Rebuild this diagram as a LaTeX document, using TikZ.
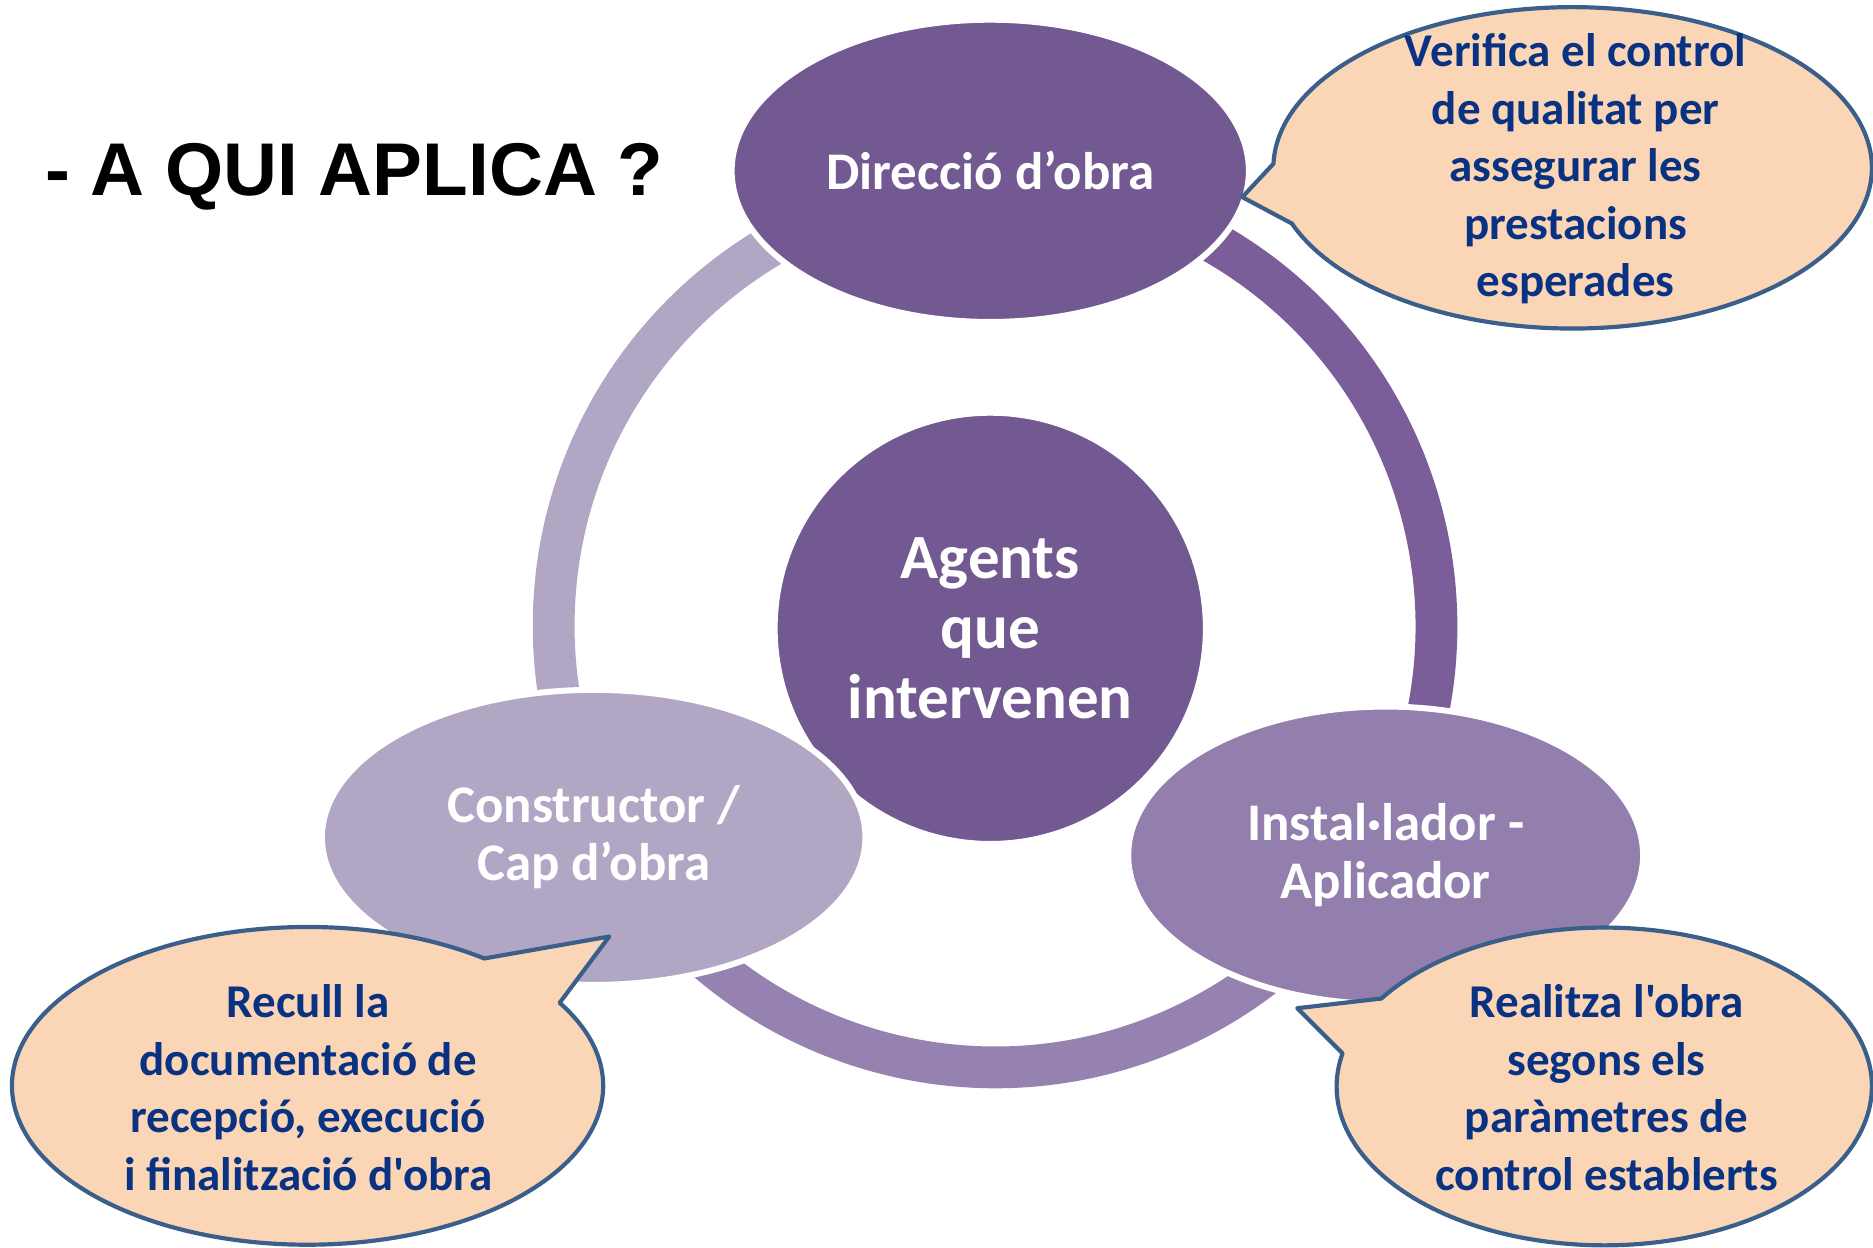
\documentclass[tikz,border=0pt]{standalone}
\usepackage{fontspec}
\setmainfont{Carlito}
\newfontfamily\titlefont{Liberation Sans}
\newfontfamily\callfont{Carlito}[Ligatures=TeXOff]
\usetikzlibrary{shapes.geometric}
\definecolor{darkpurple}{RGB}{115,89,145}
\definecolor{ringdark}{RGB}{123,94,153}
\definecolor{lightpurple}{RGB}{177,167,196}
\definecolor{midpurple}{RGB}{146,127,173}
\definecolor{ringmid}{RGB}{150,130,176}
\definecolor{peach}{RGB}{251,214,182}
\definecolor{calledge}{RGB}{58,95,139}
\definecolor{calltext}{RGB}{10,50,130}
\tikzset{
  agent/.style={ellipse, draw=white, line width=0.05cm, inner sep=0pt, text=white,
    font=\bfseries\fontsize{12.6}{13.9}\selectfont, align=center},
  ringarc/.style={line width=0.35cm},
  callshape/.style={fill=peach, draw=calledge, line width=0.035cm, line join=round},
  calltext/.style={text=calltext, inner sep=0pt, align=center,
    font=\callfont\bfseries\fontsize{11.2}{13.7}\selectfont},
}

\begin{document}
\begin{tikzpicture}
	\useasboundingbox (0,0) rectangle (15.68,-10.44);
	\node[font=\titlefont\bfseries\fontsize{17.8}{20}\selectfont, anchor=west, inner sep=0pt] (title) at (0.37,-1.48) {- A QUI APLICA ?};
	\coordinate (hub) at (8.33,-5.24);
	\draw[ringarc, lightpurple] (hub) ++(90:3.695) arc[start angle=90, end angle=207.8, radius=3.695];
	\draw[ringarc, ringmid] (hub) ++(207.8:3.695) arc[start angle=207.8, end angle=329.6, radius=3.695];
	\draw[ringarc, ringdark] (hub) ++(329.6:3.695) arc[start angle=329.6, end angle=450, radius=3.695];
	\node[agent, fill=darkpurple, minimum width=4.33cm, minimum height=2.53cm] (direccio) at (8.29,-1.43) {Direcció d’obra};
	\node[agent, circle, fill=darkpurple, minimum size=3.61cm, font=\bfseries\fontsize{15}{16.7}\selectfont] (agents) at (8.29,-5.26) {Agents\\que\\intervenen};
	\node[agent, fill=lightpurple, minimum width=4.55cm, minimum height=2.47cm] (constructor) at (4.97,-7.01) {Constructor /\\Cap d’obra};
	\node[agent, fill=midpurple, minimum width=4.31cm, minimum height=2.49cm] (installador) at (11.60,-7.16) {Instal·lador -\\Aplicador};
	\coordinate (tipdir) at (10.40,-1.65);
	\coordinate (tipcon) at (5.10,-7.84);
	\coordinate (tipins) at (10.86,-8.44);
	\draw[callshape] (13.165,-1.405) ++(200.3:2.505 and 1.345) arc[start angle=200.3, end angle=538.5, x radius=2.505, y radius=1.345] -- (tipdir) -- cycle;
	\draw[callshape] (2.575,-9.09) ++(53.3:2.475 and 1.33) arc[start angle=53.3, end angle=391.5, x radius=2.475, y radius=1.33] -- (tipcon) -- cycle;
	\draw[callshape] (13.43,-9.095) ++(168:2.24 and 1.33) arc[start angle=168, end angle=506.4, x radius=2.24, y radius=1.33] -- (tipins) -- cycle;
	\node[calltext] (verifica) at (13.19,-1.415) {Verifica el control\\de qualitat per\\assegurar les\\prestacions\\esperades};
	\node[calltext] (recull) at (2.58,-9.105) {Recull la\\documentació de\\recepció, execució\\i finalització d'obra};
	\node[calltext] (realitza) at (13.45,-9.105) {Realitza l'obra\\segons els\\paràmetres de\\control establerts};
\end{tikzpicture}
\end{document}
